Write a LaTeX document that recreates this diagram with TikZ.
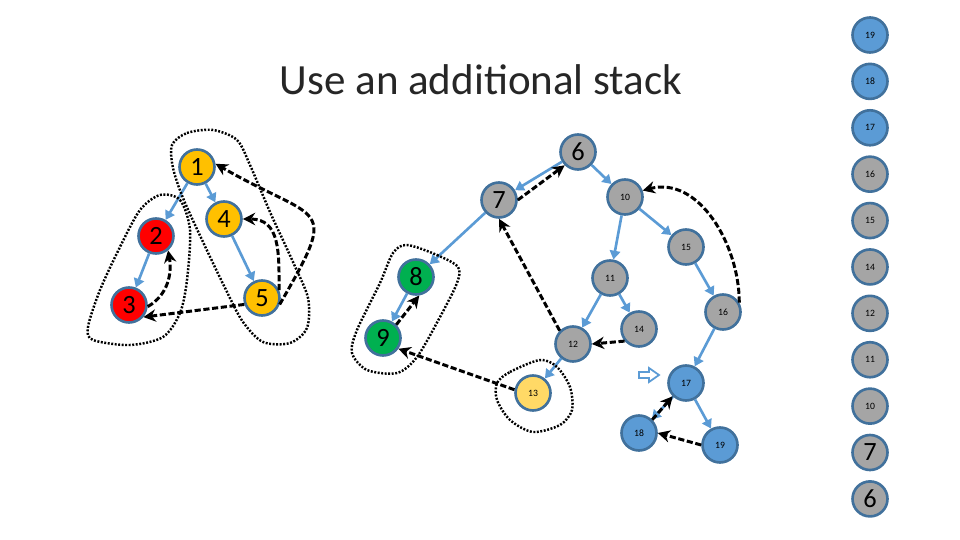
\documentclass[tikz,border=0pt]{standalone}
\usepackage{fontspec}
\setmainfont{Carlito}
\usetikzlibrary{arrows.meta,positioning}
\definecolor{rimblue}{HTML}{41719C}
\definecolor{edgeblue}{HTML}{5B9BD5}
\definecolor{bluefill}{HTML}{5B9BD5}
\definecolor{grayfill}{HTML}{A5A5A5}
\definecolor{orangefill}{HTML}{FFC000}
\definecolor{redfill}{HTML}{FF0000}
\definecolor{greenfill}{HTML}{00B050}
\definecolor{yellowfill}{HTML}{FFD966}

\begin{document}
\begin{tikzpicture}[x=0.02cm, y=-0.02cm, node distance=0.928cm]
  % Define styles
  \tikzstyle{vertex} = [circle, draw=rimblue, line width=1.5pt, minimum size=0.7cm, inner sep=0pt, font=\fontsize{15}{15}\selectfont]
  \tikzstyle{smalltext} = [font=\fontsize{5.5}{5.5}\selectfont]
  \tikzstyle{treeline} = [draw=edgeblue, line width=1.5pt, -{Triangle[length=5pt,width=6pt]}]
  \tikzstyle{backline} = [draw, line width=1.7pt, dash pattern=on 3.5pt off 1.5pt, -{Stealth[length=7pt,width=7pt]}]
  \tikzstyle{sccloop} = [draw, line width=1.4pt, dash pattern=on 1.1pt off 0.9pt]

  \useasboundingbox (0,0) rectangle (960,540);

  % Title
  \node [font=\fontsize{24.5}{29}\selectfont, text=black!85] (title) at (481,80) {Use an additional stack};

  % Place nodes of the first graph
  \node [vertex, fill=orangefill] (v1) at (197,167) {1};
  \node [vertex, fill=redfill] (v2) at (156,236) {2};
  \node [vertex, fill=redfill] (v3) at (129,305) {3};
  \node [vertex, fill=orangefill] (v4) at (224,219) {4};
  \node [vertex, fill=orangefill] (v5) at (262,298) {5};

  % Place nodes of the second graph
  \node [vertex, fill=grayfill] (v6) at (578,152) {6};
  \node [vertex, fill=grayfill] (v7) at (499,200) {7};
  \node [vertex, fill=greenfill] (v8) at (416,277) {8};
  \node [vertex, fill=greenfill] (v9) at (383,338) {9};
  \node [vertex, fill=grayfill, smalltext] (v10) at (625,197) {10};
  \node [vertex, fill=grayfill, smalltext] (v11) at (610,278) {11};
  \node [vertex, fill=grayfill, smalltext] (v12) at (573,344) {12};
  \node [vertex, fill=yellowfill, smalltext] (v13) at (533,393) {13};
  \node [vertex, fill=grayfill, smalltext] (v14) at (639,329) {14};
  \node [vertex, fill=grayfill, smalltext] (v15) at (686,247) {15};
  \node [vertex, fill=grayfill, smalltext] (v16) at (723,312) {16};
  \node [vertex, fill=bluefill, smalltext] (v17) at (686,383) {17};
  \node [vertex, fill=bluefill, smalltext] (v18) at (639,433) {18};
  \node [vertex, fill=bluefill, smalltext] (v19) at (720,445) {19};

  % Stack
  \node [vertex, fill=bluefill, smalltext] (s19) at (870,35) {19};
  \node [vertex, fill=bluefill, smalltext, below of=s19] (s18) {18};
  \node [vertex, fill=bluefill, smalltext, below of=s18] (s17) {17};
  \node [vertex, fill=grayfill, smalltext, below of=s17] (s16) {16};
  \node [vertex, fill=grayfill, smalltext, below of=s16] (s15) {15};
  \node [vertex, fill=grayfill, smalltext, below of=s15] (s14) {14};
  \node [vertex, fill=grayfill, smalltext, below of=s14] (s12) {12};
  \node [vertex, fill=grayfill, smalltext, below of=s12] (s11) {11};
  \node [vertex, fill=grayfill, smalltext, below of=s11] (s10) {10};
  \node [vertex, fill=grayfill, below of=s10] (s7) {7};
  \node [vertex, fill=grayfill, below of=s7] (s6) {6};

  % Tree edges
  \path [treeline] (v1) -- (v2);
  \path [treeline] (v1) -- (v4);
  \path [treeline] (v2) -- (v3);
  \path [treeline] (v4) -- (v5);
  \path [treeline] (v6) -- (v7);
  \path [treeline] (v6) -- (v10);
  \path [treeline] (v7) -- (v8);
  \path [treeline] (v8) -- (v9);
  \path [treeline] (v10) -- (v11);
  \path [treeline] (v10) -- (v15);
  \path [treeline] (v11) -- (v12);
  \path [treeline] (v11) -- (v14);
  \path [treeline] (v12) -- (v13);
  \path [treeline] (v15) -- (v16);
  \path [treeline] (v16) -- (v17);
  \path [treeline] (v17) -- (v18);
  \path [treeline] (v17) -- (v19);

  % Back edges
  \path [backline] (v3.-5) to[out=30, in=-80] (v2.-50);
  \path [backline] (v5.200) -- (v3.-40);
  \path [backline] (v5.25) to[out=90, in=0, looseness=1.2] (v4.east);
  \path [backline] (v5.-20) to[out=60, in=-30, looseness=2] (v1.10);
  \path [backline] (v7.east) -- (v6.-135);
  \path [backline] (v9.45) -- (v8.-80);
  \path [backline] (v12.135) -- (v7.south);
  \path [backline] (v14.-140) -- (v12.east);
  \path [backline] (v13.170) -- (v9.-35);
  \path [backline] (v16.30) to[out=90, in=15] (v10.20);
  \path [backline] (v18.45) -- (v17.-135);
  \path [backline] (v19.west) -- (v18.east);

  % Components
  \draw [sccloop] plot [smooth cycle] coordinates {(160,195) (180,200) (190,230) (187,280) (180,313) (163,337) (130,345) (93,340) (88,327) (100,290) (120,247) (140,210)};
  \draw [sccloop] plot [smooth cycle] coordinates {(172,145) (187,133) (213,130) (237,140) (250,165) (270,212) (293,262) (308,298) (307,328) (290,343) (263,342) (243,322) (227,292) (203,242) (183,198) (173,168)};
  \draw [sccloop] plot [smooth cycle] coordinates {(407,245) (437,255) (458,267) (457,283) (440,317) (417,357) (397,373) (367,370) (352,353) (357,330) (380,283) (393,253)};
  \draw [sccloop] plot [smooth cycle] coordinates {(497,383) (510,372) (540,360) (557,367) (570,387) (572,410) (560,425) (533,432) (510,420) (497,400)};

  % Pointer
  \draw [draw=edgeblue, line width=1pt, fill=white] (639,372) -- (649,372) -- (649,368) -- (659,375) -- (649,382) -- (649,378) -- (639,378) -- cycle;
\end{tikzpicture}
\end{document}
